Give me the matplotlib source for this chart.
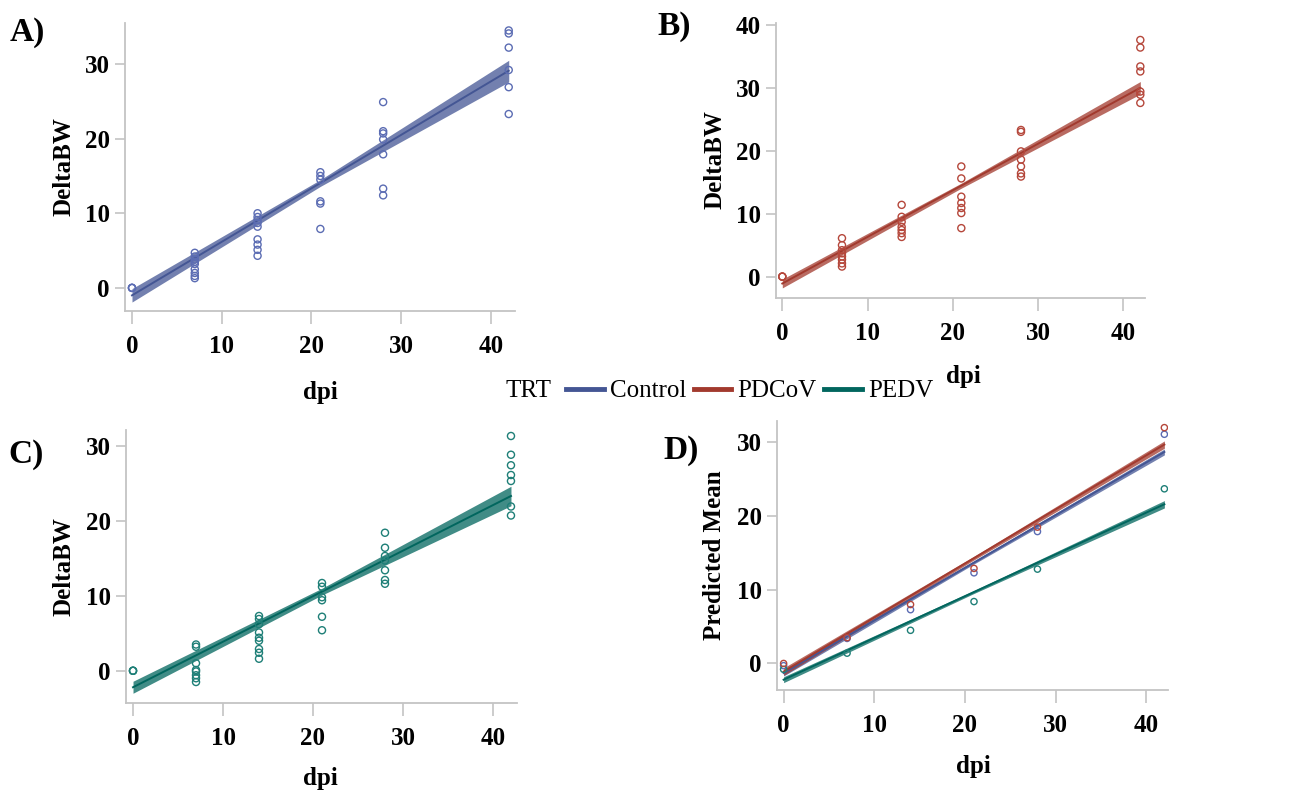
import numpy as np
import matplotlib.pyplot as plt
from matplotlib.lines import Line2D

plt.rcParams['font.family'] = ['Liberation Serif', 'DejaVu Serif']

# group colours (SAS HTMLBlue style)
colors = {'Control': '#445694', 'PDCoV': '#A23A2E', 'PEDV': '#01665E'}
marker_colors = {'Control': '#5B6CB3', 'PDCoV': '#B5473B', 'PEDV': '#1E7F77'}
trt_names = ['Control', 'PDCoV', 'PEDV']

control_dpi = [0, 0, 0,
               7, 7, 7, 7, 7, 7, 7, 7, 7,
               14, 14, 14, 14, 14, 14, 14, 14, 14,
               21, 21, 21, 21, 21, 21,
               28, 28, 28, 28, 28, 28, 28,
               42, 42, 42, 42, 42, 42]
control_bw = [0.0, 0.0, 0.0,
              4.7, 4.2, 3.8, 3.5, 3.2, 2.5, 2.0, 1.6, 1.3,
              10.0, 9.5, 9.1, 8.7, 8.2, 6.5, 5.8, 5.1, 4.3,
              15.5, 15.0, 14.5, 11.6, 11.3, 7.9,
              24.9, 21.0, 20.7, 19.9, 17.9, 13.3, 12.4,
              34.5, 34.1, 32.2, 29.2, 26.9, 23.3]

pdcov_dpi = [0, 0, 0,
             7, 7, 7, 7, 7, 7, 7, 7,
             14, 14, 14, 14, 14, 14, 14,
             21, 21, 21, 21, 21, 21, 21,
             28, 28, 28, 28, 28, 28, 28,
             42, 42, 42, 42, 42, 42, 42]
pdcov_bw = [0.0, 0.0, 0.0,
            6.1, 5.0, 4.2, 3.7, 3.2, 2.7, 2.1, 1.6,
            11.4, 9.5, 8.7, 7.9, 7.4, 6.9, 6.3,
            17.5, 15.6, 12.7, 11.7, 10.9, 10.1, 7.7,
            23.3, 23.0, 19.9, 18.6, 17.5, 16.4, 15.9,
            37.6, 36.4, 33.4, 32.6, 29.4, 28.9, 27.6]

pedv_dpi = [0, 0, 0,
            7, 7, 7, 7, 7, 7, 7, 7,
            14, 14, 14, 14, 14, 14, 14, 14, 14,
            21, 21, 21, 21, 21, 21,
            28, 28, 28, 28, 28, 28, 28,
            42, 42, 42, 42, 42, 42, 42]
pedv_bw = [0.0, 0.0, 0.0,
           3.5, 3.2, 1.0, 0.1, -0.1, -0.6, -1.0, -1.5,
           7.3, 6.9, 6.2, 5.1, 4.4, 4.0, 2.9, 2.4, 1.6,
           11.7, 11.2, 9.8, 9.4, 7.2, 5.4,
           18.4, 16.4, 15.3, 14.7, 13.4, 12.1, 11.6,
           31.3, 28.8, 27.4, 26.1, 25.3, 21.9, 20.7]

# ---- fitted lines with confidence limits ----
fit_dpi = [0, 21, 42]
control_fit = [-1.0, 14.05, 29.1]
control_lo = [-1.9, 13.6, 27.6]
control_hi = [-0.1, 14.5, 30.5]
pdcov_fit = [-1.1, 14.45, 30.0]
pdcov_lo = [-1.8, 14.05, 29.0]
pdcov_hi = [-0.4, 14.85, 31.0]
pedv_fit = [-2.2, 10.55, 23.3]
pedv_lo = [-3.0, 10.1, 22.0]
pedv_hi = [-1.4, 11.0, 24.6]

# ---- panel D: predicted means ----
mean_dpi = [0, 7, 14, 21, 28, 42]
control_mean = [-0.3, 3.4, 7.3, 12.3, 17.9, 31.1]
pdcov_mean = [0.0, 3.5, 8.0, 12.9, 18.5, 32.0]
pedv_mean = [-0.8, 1.4, 4.5, 8.4, 12.8, 23.7]
control_pred = [-1.3, 13.7, 28.7]
control_pred_lo = [-1.7, 13.5, 28.3]
control_pred_hi = [-0.9, 13.9, 29.1]
pdcov_pred = [-1.1, 14.3, 29.7]
pdcov_pred_lo = [-1.6, 14.05, 29.2]
pdcov_pred_hi = [-0.6, 14.55, 30.2]
pedv_pred = [-2.2, 9.7, 21.6]
pedv_pred_lo = [-2.6, 9.5, 21.1]
pedv_pred_hi = [-1.8, 9.9, 22.1]

W, H = 1309, 794
fig = plt.figure(figsize=(W / 100, H / 100), dpi=100)


def make_ax(x0, y0, x1, y1):
    # pixel box -> figure fraction
    return fig.add_axes([x0 / W, 1 - y1 / H, (x1 - x0) / W, (y1 - y0) / H])


def style(ax, xlim, ylim, yticks, ylabel, ylab_xy, xlab_xy):
    ax.set_xlim(*xlim)
    ax.set_ylim(*ylim)
    ax.set_xticks([0, 10, 20, 30, 40])
    ax.set_yticks(yticks)
    for s in ['top', 'right']:
        ax.spines[s].set_visible(False)
    for s in ['left', 'bottom']:
        ax.spines[s].set_color('#C4C4C4')
        ax.spines[s].set_linewidth(1.3)
    ax.tick_params(axis='x', length=9, width=1.2, color='#C4C4C4', pad=8,
                   labelsize=18)
    ax.tick_params(axis='y', length=7, width=1.2, color='#C4C4C4', pad=4,
                   labelsize=18)
    for lab in ax.get_xticklabels() + ax.get_yticklabels():
        lab.set_fontweight('bold')
    ax.set_ylabel(ylabel, fontsize=18, fontweight='bold')
    ax.yaxis.set_label_coords(ylab_xy[0] / W, 1 - ylab_xy[1] / H,
                              transform=fig.transFigure)
    ax.yaxis.label.set_va('center')
    ax.set_xlabel('dpi', fontsize=18, fontweight='bold')
    ax.xaxis.set_label_coords(xlab_xy[0] / W, 1 - xlab_xy[1] / H,
                              transform=fig.transFigure)
    ax.xaxis.label.set_va('center')


def draw_group(ax, name, dpi, bw, fit, lo, hi, ms=26):
    ax.fill_between(fit_dpi, lo, hi, color=colors[name], alpha=0.75,
                    linewidth=0, zorder=2)
    ax.plot(fit_dpi, fit, color=colors[name], lw=1.4, zorder=3)
    ax.scatter(dpi, bw, s=ms, facecolors='none',
               edgecolors=marker_colors[name], linewidths=1.0, zorder=4)


# A) Control
axA = make_ax(125, 23, 515, 311)
draw_group(axA, 'Control', control_dpi, control_bw,
           control_fit, control_lo, control_hi)
style(axA, (-0.78, 42.7), (-3.1, 35.5), [0, 10, 20, 30], 'DeltaBW',
      (64, 167), (320, 392))

# B) PDCoV
axB = make_ax(776, 23, 1145, 298)
draw_group(axB, 'PDCoV', pdcov_dpi, pdcov_bw, pdcov_fit, pdcov_lo, pdcov_hi)
style(axB, (-0.74, 42.55), (-3.4, 40.3), [0, 10, 20, 30, 40], 'DeltaBW',
      (715, 160), (963, 377))

# C) PEDV
axC = make_ax(126, 430, 517, 703)
draw_group(axC, 'PEDV', pedv_dpi, pedv_bw, pedv_fit, pedv_lo, pedv_hi)
style(axC, (-0.78, 42.67), (-4.3, 32.1), [0, 10, 20, 30], 'DeltaBW',
      (64, 567), (320, 778))

# D) predicted means
axD = make_ax(777, 421, 1168, 690)
draw_group(axD, 'Control', mean_dpi, control_mean,
           control_pred, control_pred_lo, control_pred_hi, ms=20)
draw_group(axD, 'PEDV', mean_dpi, pedv_mean,
           pedv_pred, pedv_pred_lo, pedv_pred_hi, ms=20)
draw_group(axD, 'PDCoV', mean_dpi, pdcov_mean,
           pdcov_pred, pdcov_pred_lo, pdcov_pred_hi, ms=20)
style(axD, (-0.73, 42.4), (-3.6, 32.9), [0, 10, 20, 30], 'Predicted Mean',
      (715, 555), (973, 767))

# panel letters
for lab, (px, py) in zip(['A)', 'B)', 'C)', 'D)'],
                         [(10, 32), (657, 26), (8, 455), (663, 450)]):
    fig.text(px / W, 1 - py / H, lab, fontsize=24, fontweight='bold',
             ha='left', va='center')

# shared legend
fig.text(506 / W, 1 - 391 / H, 'TRT', fontsize=18, ha='left', va='center')
handles = [Line2D([], [], color=colors[n], lw=3.5) for n in trt_names]
fig.legend(handles, trt_names, loc='center left',
           bbox_to_anchor=(566 / W, 1 - 391 / H), ncol=3, frameon=False,
           fontsize=18, handlelength=1.5, handletextpad=0.25,
           columnspacing=0.3, borderpad=0, borderaxespad=0)

fig.savefig('out.png', dpi=100, facecolor='white')
